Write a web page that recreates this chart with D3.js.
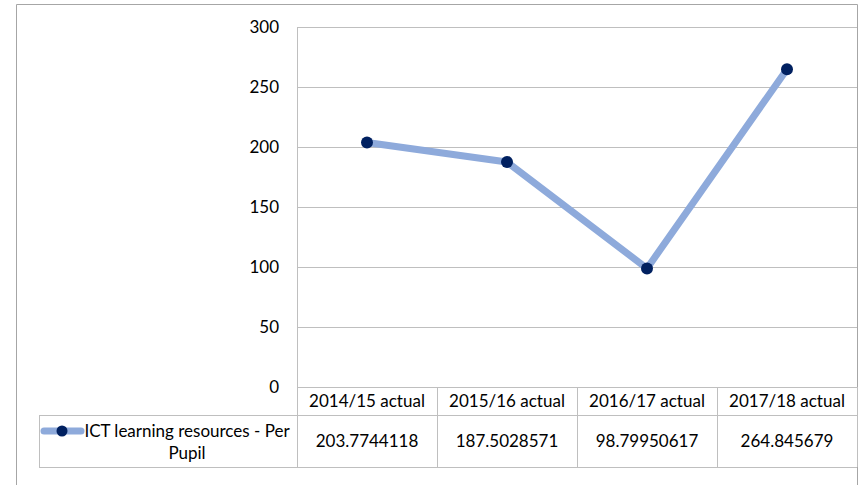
<!DOCTYPE html>
<html>
<head>
<meta charset="utf-8">
<script src="https://cdn.jsdelivr.net/npm/d3@7"></script>
<style>
  body { margin: 0; background: #fff; }
  text { font-family: Lato, "Open Sans", sans-serif; fill: #000; }
</style>
</head>
<body>
<svg id="chart" width="861" height="485"></svg>
<script>
// chart data
var categories = ["2014/15 actual", "2015/16 actual", "2016/17 actual", "2017/18 actual"];
var values = [203.7744118, 187.5028571, 98.79950617, 264.845679];
var valueLabels = ["203.7744118", "187.5028571", "98.79950617", "264.845679"];
var yTicks = [0, 50, 100, 150, 200, 250, 300];
var seriesName = ["ICT learning resources - Per", "Pupil"];

var svg = d3.select("#chart");
var gridColor = "#bfbfbf";
var lineColor = "#8eaadb";
var markerColor = "#002060";
var fontSize = 17;

// layout of plot area and data table
var plot = { left: 297, right: 857, top: 27, bottom: 387 };
var table = { left: 39, headerBottom: 415, bottom: 467 };

var x = d3.scaleBand()
    .domain(categories)
    .range([plot.left, plot.right]);

var y = d3.scaleLinear()
    .domain([0, 300])
    .range([plot.bottom, plot.top]);

// outer chart border
svg.append("path")
    .attr("d", "M16.5,490 V4.5 H857.5 V490")
    .attr("fill", "none")
    .attr("stroke", "#a6a6a6");

// horizontal gridlines
svg.append("g").selectAll("line").data(yTicks)
    .enter().append("line")
    .attr("x1", plot.left)
    .attr("x2", plot.right)
    .attr("y1", function (d) { return Math.round(y(d)) + 0.5; })
    .attr("y2", function (d) { return Math.round(y(d)) + 0.5; })
    .attr("stroke", gridColor);

// y axis labels
svg.append("g").selectAll("text").data(yTicks)
    .enter().append("text")
    .attr("x", 279)
    .attr("y", function (d) { return y(d) + 6; })
    .attr("text-anchor", "end")
    .attr("font-size", fontSize)
    .text(function (d) { return d; });

// y axis line (continues down through the table)
svg.append("line")
    .attr("x1", plot.left + 0.5).attr("x2", plot.left + 0.5)
    .attr("y1", plot.top).attr("y2", table.bottom)
    .attr("stroke", gridColor);

// data table: column separators
svg.append("g").selectAll("line").data(categories)
    .enter().append("line")
    .attr("x1", function (d) { return x(d) + x.bandwidth() + 0.5; })
    .attr("x2", function (d) { return x(d) + x.bandwidth() + 0.5; })
    .attr("y1", plot.bottom)
    .attr("y2", table.bottom)
    .attr("stroke", gridColor);

// data table: horizontal rules
svg.append("line")
    .attr("x1", table.left).attr("x2", plot.right)
    .attr("y1", table.headerBottom + 0.5).attr("y2", table.headerBottom + 0.5)
    .attr("stroke", gridColor);
svg.append("line")
    .attr("x1", table.left).attr("x2", plot.right)
    .attr("y1", table.bottom + 0.5).attr("y2", table.bottom + 0.5)
    .attr("stroke", gridColor);
svg.append("line")
    .attr("x1", table.left + 0.5).attr("x2", table.left + 0.5)
    .attr("y1", table.headerBottom).attr("y2", table.bottom)
    .attr("stroke", gridColor);

// header labels
svg.append("g").selectAll("text").data(categories)
    .enter().append("text")
    .attr("x", function (d) { return x(d) + x.bandwidth() / 2; })
    .attr("y", 407)
    .attr("text-anchor", "middle")
    .attr("font-size", fontSize)
    .text(function (d) { return d; });

// value labels
svg.append("g").selectAll("text").data(valueLabels)
    .enter().append("text")
    .attr("x", function (d, i) { return x(categories[i]) + x.bandwidth() / 2; })
    .attr("y", 447)
    .attr("text-anchor", "middle")
    .attr("font-size", fontSize)
    .text(function (d) { return d; });

// legend key
svg.append("line")
    .attr("x1", 44).attr("x2", 81)
    .attr("y1", 431).attr("y2", 431)
    .attr("stroke", lineColor)
    .attr("stroke-width", 7)
    .attr("stroke-linecap", "round");
svg.append("circle")
    .attr("cx", 62).attr("cy", 431).attr("r", 5.5)
    .attr("fill", markerColor);

svg.append("text")
    .attr("x", 187).attr("y", 437)
    .attr("text-anchor", "middle")
    .attr("font-size", fontSize)
    .text(seriesName[0]);
svg.append("text")
    .attr("x", 187).attr("y", 459)
    .attr("text-anchor", "middle")
    .attr("font-size", fontSize)
    .text(seriesName[1]);

// series line
var line = d3.line()
    .x(function (d, i) { return x(categories[i]) + x.bandwidth() / 2; })
    .y(function (d) { return y(d); });

svg.append("path")
    .datum(values)
    .attr("d", line)
    .attr("fill", "none")
    .attr("stroke", lineColor)
    .attr("stroke-width", 7)
    .attr("stroke-linejoin", "round")
    .attr("stroke-linecap", "round");

svg.append("g").selectAll("circle").data(values)
    .enter().append("circle")
    .attr("cx", function (d, i) { return x(categories[i]) + x.bandwidth() / 2; })
    .attr("cy", function (d) { return y(d); })
    .attr("r", 6)
    .attr("fill", markerColor);
</script>
</body>
</html>
